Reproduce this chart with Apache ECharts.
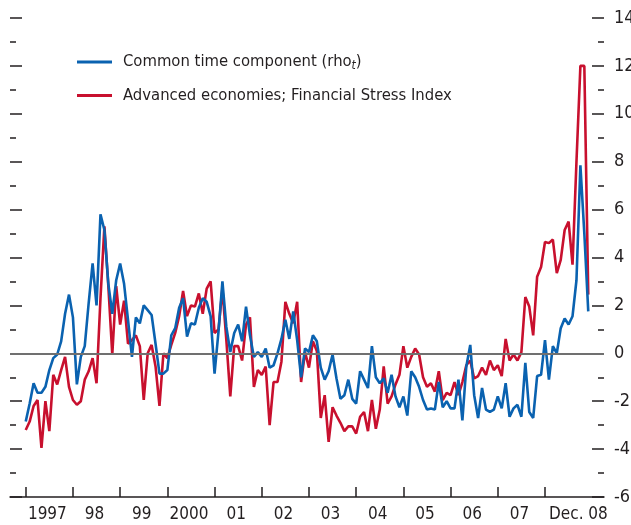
<!DOCTYPE html>
<html>
<head>
<meta charset="utf-8">
<script src="https://cdn.jsdelivr.net/npm/echarts@6/dist/echarts.min.js"></script>
<style>
  html, body { margin: 0; padding: 0; background: #fff; }
  #chart { width: 631px; height: 525px; }
</style>
</head>
<body>
<div id="chart"></div>
<script>
// monthly, Jan 1997 .. Dec 2008
var yearLabels = ["1997", "98", "99", "2000", "01", "02", "03", "04", "05", "06", "07", "Dec. 08"];
var yTicks = [-6, 14, 2];

var rhoValues = [
  -2.85, -2.1, -1.25, -1.65, -1.65, -1.4, -0.7, -0.2, -0.05, 0.5, 1.65, 2.45,
  1.5, -1.3, -0.15, 0.3, 2.1, 3.75, 2.0, 5.8, 5.15, 2.9, 1.65, 3.05,
  3.75, 2.9, 1.4, -0.15, 1.5, 1.25, 2.0, 1.8, 1.6, 0.4, -0.85, -0.85,
  -0.7, 0.75, 1.05, 1.9, 2.3, 0.7, 1.25, 1.2, 1.9, 2.3, 2.15, 1.55,
  -0.85, 0.9, 3.0, 1.1, 0.05, 0.85, 1.2, 0.5, 1.95, 0.75, -0.15, 0.05,
  -0.15, 0.2, -0.6, -0.5, 0.0, 0.6, 1.4, 0.6, 1.75, 0.55, -1.0, 0.2,
  0.05, 0.75, 0.5, -0.6, -1.1, -0.75, -0.05, -1.05, -1.9, -1.75, -1.1, -1.9,
  -2.1, -0.75, -1.1, -1.45, 0.3, -1.0, -1.25, -1.05, -1.65, -0.9, -1.8, -2.25,
  -1.8, -2.6, -0.75, -1.0, -1.4, -1.95, -2.35, -2.3, -2.35, -1.2, -2.25, -2.0,
  -2.3, -2.3, -1.1, -2.8, -0.55, 0.35, -1.75, -2.7, -1.45, -2.35, -2.45, -2.35,
  -1.8, -2.3, -1.25, -2.65, -2.3, -2.15, -2.65, -0.4, -2.45, -2.7, -0.95, -0.9,
  0.55, -1.1, 0.3, 0.0, 1.05, 1.45, 1.2, 1.55, 3.05, 7.85, 5.0, 1.75
];

var fsiValues = [
  -3.2, -2.85, -2.2, -1.95, -3.95, -2.0, -3.25, -0.9, -1.3, -0.7, -0.15, -1.4,
  -1.95, -2.15, -2.0, -1.1, -0.75, -0.2, -1.25, 2.3, 5.3, 2.8, -0.05, 2.8,
  1.2, 2.2, 0.4, 0.55, 0.75, 0.3, -1.95, 0.0, 0.35, -0.55, -2.2, 0.0,
  -0.2, 0.35, 0.85, 1.55, 2.6, 1.55, 2.0, 1.95, 2.5, 1.65, 2.7, 3.0,
  0.85, 1.0, 2.7, 0.55, -1.8, 0.3, 0.3, -0.3, 1.2, 1.5, -1.4, -0.7,
  -0.9, -0.55, -3.0, -1.2, -1.2, -0.35, 2.15, 1.65, 1.25, 2.15, -1.2, 0.05,
  -0.6, 0.5, 0.1, -2.7, -1.75, -3.7, -2.25, -2.6, -2.9, -3.25, -3.05, -3.05,
  -3.35, -2.65, -2.45, -3.25, -1.95, -3.15, -2.35, -0.55, -2.1, -1.8, -1.3, -0.9,
  0.3, -0.6, -0.15, 0.2, -0.05, -1.0, -1.4, -1.25, -1.6, -0.75, -1.95, -1.65,
  -1.75, -1.2, -1.75, -1.2, -0.5, -0.3, -1.05, -0.95, -0.6, -0.9, -0.3, -0.7,
  -0.5, -0.95, 0.6, -0.3, -0.05, -0.3, 0.05, 2.35, 1.95, 0.75, 3.2, 3.6,
  4.65, 4.6, 4.75, 3.35, 3.9, 5.15, 5.5, 3.7, 8.0, 12.0, 12.0, 2.45
];

var rhoName = "Common time component (rho_t)";
var fsiName = "Advanced economies; Financial Stress Index";

var font = "'Liberation Sans Narrow', 'DejaVu Sans Condensed', sans-serif";
var textColor = "#231f20";
var axisColor = "#231f20";

// year ticks at January, labels in the middle of each year
var yearTicks = yearLabels.map(function (l, i) { return i * 12; });
var labelPos = yearLabels.map(function (l, i) {
    return i === yearLabels.length - 1 ? i * 12 + 8.5 : i * 12 + 5.5;
});

function makeYAxis(side, showLabels) {
    return {
        type: "value",
        position: side,
        min: yTicks[0],
        max: yTicks[1],
        interval: yTicks[2],
        splitLine: { show: false },
        axisLine: { show: false, onZero: false },
        axisTick: {
            show: true,
            inside: true,
            length: 12,
            lineStyle: { color: axisColor, width: 1.5 },
        },
        minorTick: {
            show: true,
            splitNumber: 2,
            length: 6,
            lineStyle: { color: axisColor, width: 1.5 },
        },
        axisLabel: {
            show: showLabels,
            margin: 10,
            fontFamily: font,
            fontSize: 18,
            color: textColor,
        },
    };
}

var chart = echarts.init(document.getElementById("chart"));

chart.setOption({
    animation: false,
    grid: { left: 10, right: 27, top: 18, bottom: 28, outerBoundsMode: "none" },
    legend: {
        orient: "vertical",
        left: 72,
        top: 47,
        itemWidth: 35,
        itemHeight: 3,
        itemGap: 15,
        icon: "rect",
        data: [rhoName, fsiName],
        formatter: function (name) {
            if (name === rhoName) {
                return "{g|}{a|Common time component (rho}{s|t}{a|)}";
            }
            return "{g|}{a|" + name + "}";
        },
        textStyle: {
            rich: {
                g: { width: 6 },
                a: { fontFamily: font, fontSize: 16.5, color: textColor, lineHeight: 20 },
                s: {
                    fontFamily: font, fontSize: 12, fontStyle: "italic",
                    color: textColor, padding: [8, 0, 0, 0], lineHeight: 20,
                },
            },
        },
    },
    xAxis: {
        type: "value",
        min: -4,
        max: 147,
        splitLine: { show: false },
        axisLine: { show: true, onZero: false, lineStyle: { color: axisColor, width: 1.5 } },
        axisTick: {
            show: true,
            inside: true,
            length: 10,
            customValues: yearTicks,
            lineStyle: { color: axisColor, width: 1.5 },
        },
        axisLabel: {
            customValues: labelPos,
            margin: 9,
            fontFamily: font,
            fontSize: 17,
            color: textColor,
            formatter: function (v) {
                var k = labelPos.indexOf(v);
                return k >= 0 ? yearLabels[k] : "";
            },
        },
    },
    yAxis: [makeYAxis("right", true), makeYAxis("left", false)],
    series: [
        {
            // zero line, kept under the data lines
            name: "zero",
            type: "line",
            data: [],
            z: 1,
            markLine: {
                silent: true,
                symbol: "none",
                label: { show: false },
                lineStyle: { color: "#707070", width: 1.8, type: "solid" },
                data: [{ yAxis: 0 }],
            },
        },
        {
            name: rhoName,
            type: "line",
            z: 3,
            showSymbol: false,
            color: "#0a62b0",
            lineStyle: { width: 2.6, color: "#0a62b0" },
            data: rhoValues.map(function (v, i) { return [i, v]; }),
        },
        {
            name: fsiName,
            type: "line",
            z: 2,
            showSymbol: false,
            color: "#c8102e",
            lineStyle: { width: 2.6, color: "#c8102e" },
            data: fsiValues.map(function (v, i) { return [i, v]; }),
        },
    ],
});
</script>
</body>
</html>
